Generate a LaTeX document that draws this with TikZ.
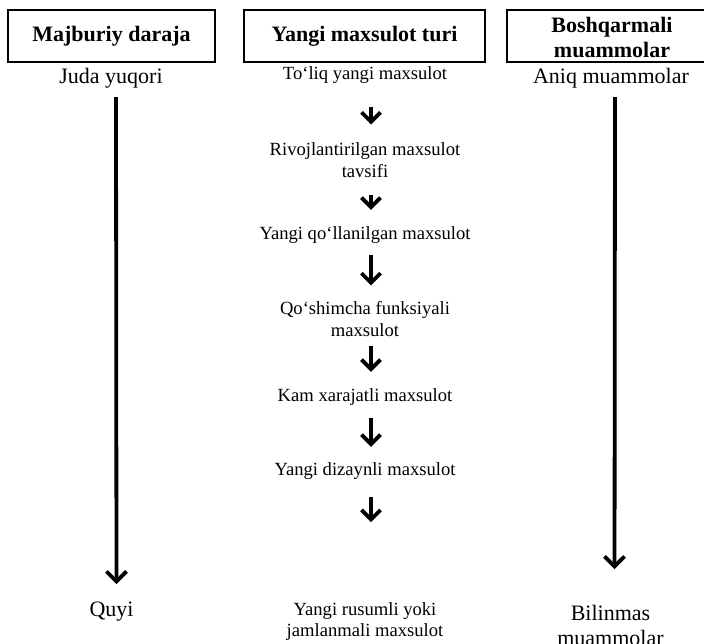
\documentclass[tikz,border=0pt]{standalone}
\usepackage{fontspec}
\setmainfont{Liberation Serif}
\usetikzlibrary{arrows.meta,positioning,calc}

\begin{document}
\begin{tikzpicture}[x=1pt, y=-1pt,
    head/.style={rectangle, draw=black, line width=1.2pt, minimum height=52pt,
                 font=\fontsize{22}{25.5}\selectfont\bfseries, align=center, inner sep=0pt},
    lvl/.style={font=\fontsize{22}{25}\selectfont, align=center, inner sep=0pt},
    kind/.style={font=\fontsize{18.6}{21.5}\selectfont, align=center, inner sep=0pt},
    longarr/.style={-{Straight Barb[length=10pt, width=20pt]}, line width=3.8pt},
    arr/.style={-{Straight Barb[length=9.5pt, width=19pt]}, line width=3.8pt}
]
    \useasboundingbox (0,0) rectangle (704,644);

    % Column headings
    \node[head, minimum width=207pt] (h1) at (111.5,36) {Majburiy daraja};
    \node[head, minimum width=241pt] (h2) at (364.5,36) {Yangi maxsulot turi};
    \node[head, minimum width=210pt, text height=44pt] (h3) at (612,36) {Boshqarmali\\muammolar};

    % Left column
    \node[lvl] (jy) at (111,78) {Juda yuqori};
    \node[lvl] (qy) at (111.5,612) {Quyi};
    \draw[longarr, shorten <=9pt, shorten >=18pt] ([xshift=5pt]jy.south) -- ([xshift=5pt]qy.north);

    % Right column
    \node[lvl] (am) at (611,78) {Aniq muammolar};
    \node[lvl] (bm) at (610.5,625.5) {Bilinmas\\muammolar};
    \draw[longarr, shorten <=9pt, shorten >=36pt] ([xshift=4pt]am.south) -- ([xshift=4pt]bm.north);

    % Middle column: product types
    \node[kind] (t1) at (365,75) {To‘liq yangi maxsulot};
    \node[kind] (t2) at (365,160) {Rivojlantirilgan maxsulot\\tavsifi};
    \node[kind] (t3) at (365,235) {Yangi qo‘llanilgan maxsulot};
    \node[kind] (t4) at (365,319) {Qo‘shimcha funksiyali\\maxsulot};
    \node[kind] (t5) at (365,397) {Kam xarajatli maxsulot};
    \node[kind] (t6) at (365,471) {Yangi dizaynli maxsulot};
    \node[kind] (t7) at (365,621.5) {Yangi rusumli yoki\\jamlanmali maxsulot};

    \draw[arr, shorten <=23pt, shorten >=18pt] ([xshift=6pt]t1.south) -- ([xshift=6pt]t2.north);
    \draw[arr, shorten <=18pt, shorten >=16.5pt] ([xshift=6pt]t2.south) -- ([xshift=6pt]t3.north);
    \draw[arr, shorten <=11.5pt, shorten >=16pt] ([xshift=6pt]t3.south) -- ([xshift=6pt]t4.north);
    \draw[arr, shorten <=9pt, shorten >=16.5pt] ([xshift=6pt]t4.south) -- ([xshift=6pt]t5.north);
    \draw[arr, shorten <=12.5pt, shorten >=15.5pt] ([xshift=6pt]t5.south) -- ([xshift=6pt]t6.north);
    \draw[arr, shorten <=17.5pt, shorten >=80pt] ([xshift=6pt]t6.south) -- ([xshift=6pt]t7.north);
\end{tikzpicture}
\end{document}
